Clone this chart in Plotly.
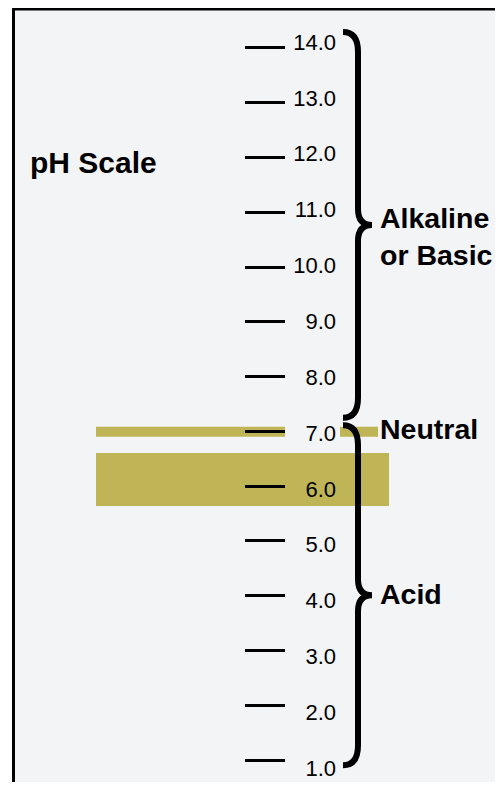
import plotly.graph_objects as go

# ---- data ----
ph_values = list(range(1, 15))
ph_labels = [f"{v:.1f}" for v in ph_values]
neutral_band = [6.93, 7.11]          # thin band around pH 7
rain_band = [5.69, 6.64]             # wide band
alkaline_range = [7.27, 14.18]       # brace extent
acid_range = [1.05, 7.14]            # brace extent
neutral_value = 7.0
title_text = "pH Scale"
alkaline_text = "Alkaline<br>or Basic"
neutral_text = "Neutral"
acid_text = "Acid"

# figure fits inside the 503x790 window with the page's 8px body margin
W, H = 487, 774
LABEL_RANGE = [0.750, 14.609]
LINE_RANGE = [0.599, 14.730]
px_per_unit = H / (LABEL_RANGE[1] - LABEL_RANGE[0])

BAND = "#bfb556"
BG = "#f3f4f6"

fig = go.Figure()
# invisible traces to register axes
fig.add_trace(go.Scatter(x=[None], y=[None], xaxis="x", yaxis="y", showlegend=False))
fig.add_trace(go.Scatter(x=[None], y=[None], xaxis="x", yaxis="y2", showlegend=False))

shapes = []
# frame
shapes.append(dict(type="rect", xref="paper", yref="paper", x0=5.5 / W, x1=1.05,
                   y0=-0.05, y1=1 - 1 / H, fillcolor=BG,
                   line=dict(color="black", width=3), layer="below"))
# bands
shapes.append(dict(type="rect", xref="x", yref="y", x0=88, x1=277,
                   y0=neutral_band[0], y1=neutral_band[1], fillcolor=BAND,
                   line=dict(width=0), layer="below"))
shapes.append(dict(type="rect", xref="x", yref="y", x0=332, x1=370,
                   y0=neutral_band[0], y1=neutral_band[1], fillcolor=BAND,
                   line=dict(width=0), layer="below"))
shapes.append(dict(type="rect", xref="x", yref="y", x0=88, x1=381,
                   y0=rain_band[0], y1=rain_band[1], fillcolor=BAND,
                   line=dict(width=0), layer="below"))


def brace(lo, hi):
    x_end, x_stem, x_tip = 335, 350, 364
    h = 20 / px_per_unit
    h2 = 16 / px_per_unit
    mid = (lo + hi) / 2
    return (f"M {x_end},{hi} Q {x_stem},{hi} {x_stem},{hi - h} "
            f"L {x_stem},{mid + h2} Q {x_stem},{mid} {x_tip},{mid} "
            f"Q {x_stem},{mid} {x_stem},{mid - h2} "
            f"L {x_stem},{lo + h} Q {x_stem},{lo} {x_end},{lo}")


for r in (alkaline_range, acid_range):
    shapes.append(dict(type="path", xref="x", yref="y", path=brace(*r),
                       line=dict(color="black", width=6)))

title_font = dict(family="Liberation Sans, Arial, sans-serif", size=30, color="black")
bold = dict(family="Liberation Sans, Arial, sans-serif", size=28.5, color="black")
annotations = [
    dict(text=f"<b>{title_text}</b>", xref="paper", yref="paper", x=20 / W, y=1 - 154 / H,
         xanchor="left", yanchor="middle", showarrow=False, font=title_font),
    dict(text=f"<b>{alkaline_text}</b>", xref="x", yref="y", x=370,
         y=sum(alkaline_range) / 2, yshift=-12, xanchor="left", yanchor="middle",
         showarrow=False, font=bold, align="left"),
    dict(text=f"<b>{neutral_text}</b>", xref="x", yref="y", x=370, y=neutral_value,
         yshift=4, xanchor="left", yanchor="middle", showarrow=False, font=bold),
    dict(text=f"<b>{acid_text}</b>", xref="x", yref="y", x=370,
         y=sum(acid_range) / 2, yshift=1, xanchor="left", yanchor="middle",
         showarrow=False, font=bold),
]

fig.update_layout(
    width=W, height=H, margin=dict(l=0, r=0, t=0, b=0),
    paper_bgcolor="white", plot_bgcolor="white", showlegend=False,
    xaxis=dict(range=[0, W], visible=False, fixedrange=True),
    yaxis=dict(range=LABEL_RANGE, anchor="free", position=328 / W, side="left",
               tickvals=ph_values, ticktext=ph_labels, ticks="", showline=False,
               showgrid=False, zeroline=False,
               tickfont=dict(family="Liberation Sans, Arial, sans-serif",
                             size=22, color="black")),
    yaxis2=dict(range=LINE_RANGE, overlaying="y", anchor="free", position=277 / W,
                side="left", tickvals=ph_values, ticks="outside", ticklen=40,
                tickwidth=2.5, tickcolor="black", showticklabels=False,
                showline=False, showgrid=False, zeroline=False),
    shapes=shapes, annotations=annotations,
)

fig.write_html("out.html")
